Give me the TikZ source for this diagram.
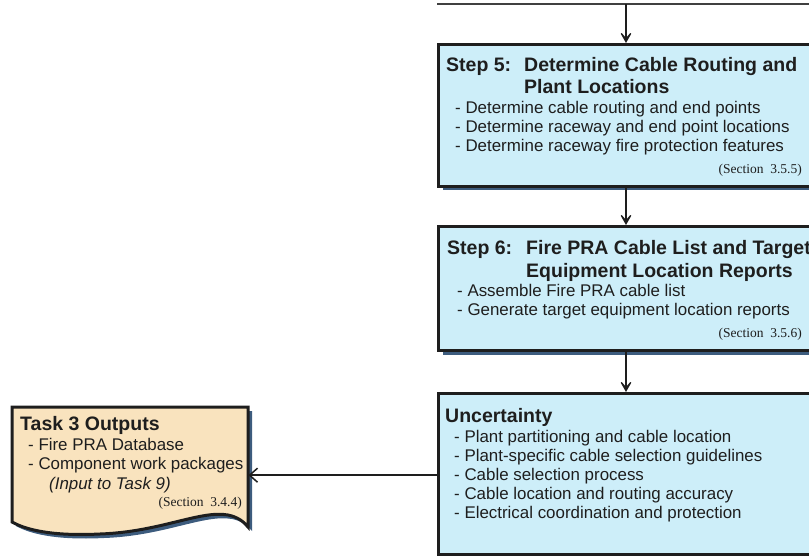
\documentclass[tikz,border=0pt]{standalone}
\usepackage{fontspec}
\setmainfont{Liberation Sans}
\newfontfamily\secfont{Liberation Serif}
\usetikzlibrary{arrows.meta,shadows}

\definecolor{boxblue}{HTML}{CDEEF9}
\definecolor{boxtan}{HTML}{F9E3BE}
\definecolor{shadowblue}{HTML}{3D5C7E}
\definecolor{inkdark}{HTML}{1E1E1E}

\begin{document}
\begin{tikzpicture}[x=1pt,y=-1pt,
  stepbox/.style={draw=inkdark, line width=3pt, fill=boxblue, anchor=north west,
    inner sep=0pt, minimum width=393pt,
    drop shadow={shadow xshift=4pt, shadow yshift=-4pt, fill=shadowblue, opacity=1}},
  flowarrow/.style={draw=inkdark, line width=2.8pt,
    -{Stealth[length=15pt,width=17pt,inset=10pt]}},
  sidearrow/.style={draw=inkdark, line width=1.5pt,
    -{Straight Barb[length=8pt,width=14pt,line width=1.5pt]}},
  % multi-line nodes are placed by the baseline of their last line
  headtxt/.style={anchor=base west, inner sep=0pt, align=left,
    font=\fontsize{19.5}{22}\selectfont\bfseries, text=inkdark},
  itemtxt/.style={anchor=base west, inner sep=0pt, align=left,
    font=\fontsize{16.9}{19}\selectfont, text=inkdark},
  sectxt/.style={anchor=base east, inner sep=0pt,
    font=\fontsize{13.5}{15}\secfont, text=inkdark},
]
\useasboundingbox (0,0) rectangle (809,556);
\clip (0,0) rectangle (809,556);

% incoming line along the top
\coordinate (topL) at (437,4.5);
\coordinate (topR) at (809,4.5);
\coordinate (feed) at (626,4.5);
\draw[draw=inkdark!85, line width=2pt] (topL) -- (topR);

% ---- Step 5
\node[stepbox, minimum height=142pt] (s5) at (437,43) {};
\node[headtxt] (s5lab) at (446,72) {Step 5:};
\node[headtxt] (s5tit) at (524,94) {Determine Cable Routing and\\Plant Locations};
\node[itemtxt] (s5items) at (455,152) {- Determine cable routing and end points\\
  - Determine raceway and end point locations\\
  - Determine raceway fire protection features};
\node[sectxt] (s5sec) at (802,174) {(Section\ \ 3.5.5)};

% ---- Step 6
\node[stepbox, minimum height=124pt] (s6) at (437,225) {};
\node[headtxt] (s6lab) at (447,255) {Step 6:};
\node[headtxt] (s6tit) at (526,277)
  {Fire PRA Cable List and Target\\Equipment Location Reports};
\node[itemtxt] (s6items) at (457,316) {- Assemble Fire PRA cable list\\
  - Generate target equipment location reports};
\node[sectxt] (s6sec) at (802,337) {(Section\ \ 3.5.6)};

% ---- Uncertainty
\node[stepbox, minimum height=161pt] (unc) at (437,392) {};
\node[headtxt] (unclab) at (445,422) {Uncertainty};
\node[itemtxt] (uncitems) at (454,518) {- Plant partitioning and cable location\\
  - Plant-specific cable selection guidelines\\
  - Cable selection process\\
  - Cable location and routing accuracy\\
  - Electrical coordination and protection};

% ---- Task 3 outputs (document shape)
\node[anchor=north west, inner sep=0pt, minimum width=236pt, minimum height=136pt] (t3) at (12,407) {};
\fill[shadowblue, shift={(4,4)}] (12,407) -- (248,407) -- (248,527)
  .. controls (244,522) and (238,517) .. (228,515)
  .. controls (200,510) and (160,532) .. (100,534)
  .. controls (60,536) and (30,532) .. (12,522) -- cycle;
\draw[draw=inkdark, line width=3pt, fill=boxtan, line join=miter] (12,407) -- (248,407) -- (248,527)
  .. controls (244,522) and (238,517) .. (228,515)
  .. controls (200,510) and (160,532) .. (100,534)
  .. controls (60,536) and (30,532) .. (12,522) -- cycle;
\node[headtxt] (t3lab) at (20,430) {Task 3 Outputs};
\node[itemtxt] (t3items) at (28,469) {- Fire PRA Database\\- Component work packages};
\node[itemtxt, font=\fontsize{16.9}{19}\selectfont\itshape] (t3note) at (49,489) {(Input to Task 9)};
\node[sectxt] (t3sec) at (242,506) {(Section\ \ 3.4.4)};

% ---- connectors
\draw[flowarrow] (feed) -- (feed |- s5.north);
\draw[flowarrow] (feed |- s5.south) -- (feed |- s6.north);
\draw[flowarrow] (feed |- s6.south) -- (feed |- unc.north);
\draw[sidearrow] (unc.west |- t3.east) -- (t3.east);
\end{tikzpicture}
\end{document}
